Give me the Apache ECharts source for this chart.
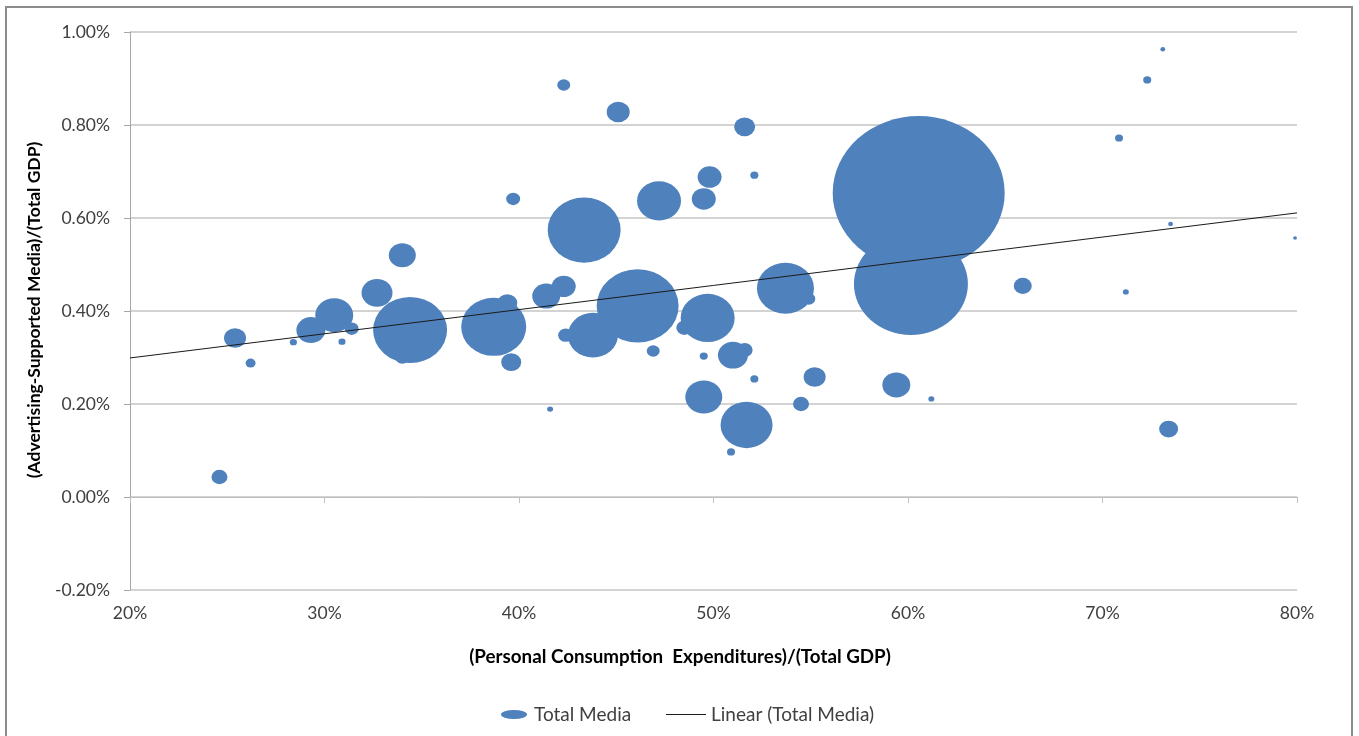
<!DOCTYPE html>
<html>
<head>
<meta charset="utf-8">
<title>Total Media bubble chart</title>
<script src="https://cdn.jsdelivr.net/npm/echarts@6/dist/echarts.min.js"></script>
<style>
  html, body { margin: 0; padding: 0; background: #fff; }
  #main { width: 1359px; height: 736px; }
</style>
</head>
<body>
<div id="main"></div>
<script>
// (Personal Consumption Expenditures)/(Total GDP), in %
var pceShare = [24.6, 25.4, 26.2, 28.4, 29.3, 30.5, 30.9, 31.4, 32.7, 34.0, 34.4, 34.0,
  38.7, 39.4, 39.6, 39.7, 41.6, 41.4, 42.3, 42.4, 43.8, 43.35, 42.3, 45.1, 46.1, 46.9,
  47.2, 48.5, 49.7, 49.5, 49.5, 49.8, 49.5, 51.0, 51.6, 50.9, 51.7, 51.6, 52.1, 52.1,
  53.7, 54.9, 55.2, 54.5, 59.4, 61.2, 60.15, 60.55, 65.9, 71.2, 73.4, 70.85, 72.3,
  73.1, 73.5, 79.9];
// (Advertising-Supported Media)/(Total GDP), in %
var adShare = [0.043, 0.342, 0.288, 0.333, 0.359, 0.391, 0.334, 0.362, 0.439, 0.520,
  0.359, 0.300, 0.366, 0.417, 0.290, 0.641, 0.189, 0.432, 0.453, 0.348, 0.348, 0.574,
  0.886, 0.828, 0.411, 0.314, 0.637, 0.364, 0.385, 0.303, 0.215, 0.688, 0.641, 0.305,
  0.316, 0.097, 0.155, 0.796, 0.692, 0.254, 0.449, 0.426, 0.258, 0.200, 0.241, 0.211,
  0.458, 0.654, 0.454, 0.441, 0.146, 0.772, 0.897, 0.963, 0.587, 0.557];
// total media (bubble size, relative)
var mediaSize = [0.87, 1.64, 0.34, 0.17, 2.84, 4.88, 0.17, 0.66, 3.25, 2.46, 18.5, 0.66,
  14.3, 1.35, 1.35, 0.66, 0.12, 2.65, 1.95, 0.76, 8.45, 18.0, 0.57, 1.79, 22.7, 0.57,
  6.54, 0.87, 9.86, 0.22, 4.63, 1.95, 1.95, 3.04, 0.87, 0.22, 9.14, 1.49, 0.22, 0.22,
  11.0, 0.57, 1.64, 0.87, 2.65, 0.12, 43.9, 100, 1.10, 0.12, 1.22, 0.22, 0.22, 0.08,
  0.08, 0.05];
// Linear (Total Media) trend line end points
var trendX = [20, 80];
var trendY = [0.299, 0.611];

var fontFam = 'Lato, "Open Sans", sans-serif';
var blue = '#4F81BD';
var ellipse = 'path://M0,50 A50,50 0 1,1 100,50 A50,50 0 1,1 0,50 Z';

var bubbles = pceShare.map(function (x, i) { return [x, adShare[i], mediaSize[i]]; });
var trend = trendX.map(function (x, i) { return [x, trendY[i]]; });

var chart = echarts.init(document.getElementById('main'));
chart.setOption({
  backgroundColor: '#fff',
  animation: false,
  grid: { left: 130, right: 62, top: 32, bottom: 146 },
  xAxis: {
    type: 'value', min: 20, max: 80, interval: 10,
    axisLine: { onZero: true, lineStyle: { color: '#bfbfbf', width: 1 } },
    axisTick: { show: true, length: 6, lineStyle: { color: '#bfbfbf' } },
    axisLabel: { margin: 14, color: '#404040', fontSize: 17.5, fontFamily: fontFam,
      formatter: function (v) { return v + '%'; } },
    splitLine: { show: false }
  },
  yAxis: {
    type: 'value', min: -0.2, max: 1.0, interval: 0.2,
    axisLine: { show: true, onZero: false, lineStyle: { color: '#a6a6a6', width: 1 } },
    axisTick: { show: true, length: 6, lineStyle: { color: '#a6a6a6' } },
    axisLabel: { margin: 20, color: '#404040', fontSize: 17.5, fontFamily: fontFam,
      formatter: function (v) { return v.toFixed(2) + '%'; } },
    splitLine: { show: true, lineStyle: { color: '#c4c4c4', width: 1.5 } }
  },
  legend: [{
    left: 496, top: 700, icon: ellipse, itemWidth: 26, itemHeight: 9, symbolKeepAspect: false,
    data: ['Total Media'],
    textStyle: { fontSize: 19, color: '#404040', fontFamily: fontFam, padding: [0, 0, 0, 2] }
  }, {
    left: 661, top: 700, icon: 'rect', itemWidth: 40, itemHeight: 1, symbolKeepAspect: false,
    data: ['Linear (Total Media)'],
    textStyle: { fontSize: 19, color: '#404040', fontFamily: fontFam }
  }],
  graphic: [
    { type: 'rect', shape: { x: 6, y: 7, width: 1346, height: 760 },
      style: { fill: null, stroke: '#8c8c8c', lineWidth: 2 }, silent: true },
    { type: 'text', x: 34, y: 310, rotation: Math.PI / 2,
      style: { text: '(Advertising-Supported Media)/(Total GDP)', fontSize: 17.5, fontWeight: 'bold',
        fontFamily: fontFam, fill: '#000', align: 'center', verticalAlign: 'middle' } },
    { type: 'text', x: 680, y: 657,
      style: { text: '(Personal Consumption  Expenditures)/(Total GDP)', fontSize: 18.8, fontWeight: 'bold',
        fontFamily: fontFam, fill: '#000', align: 'center', verticalAlign: 'middle' } }
  ],
  series: [{
    name: 'Total Media',
    type: 'scatter',
    clip: false,
    symbol: ellipse,
    symbolKeepAspect: false,
    symbolSize: function (val) {
      var w = Math.sqrt(val[2]) * 17.2;
      return [w, w / 1.12];
    },
    itemStyle: { color: blue, opacity: 1 },
    data: bubbles,
    z: 2
  }, {
    name: 'Linear (Total Media)',
    type: 'line',
    symbol: 'none',
    data: trend,
    lineStyle: { color: '#1a1a1a', width: 1 },
    itemStyle: { color: '#1a1a1a' },
    z: 3
  }]
});
</script>
</body>
</html>
